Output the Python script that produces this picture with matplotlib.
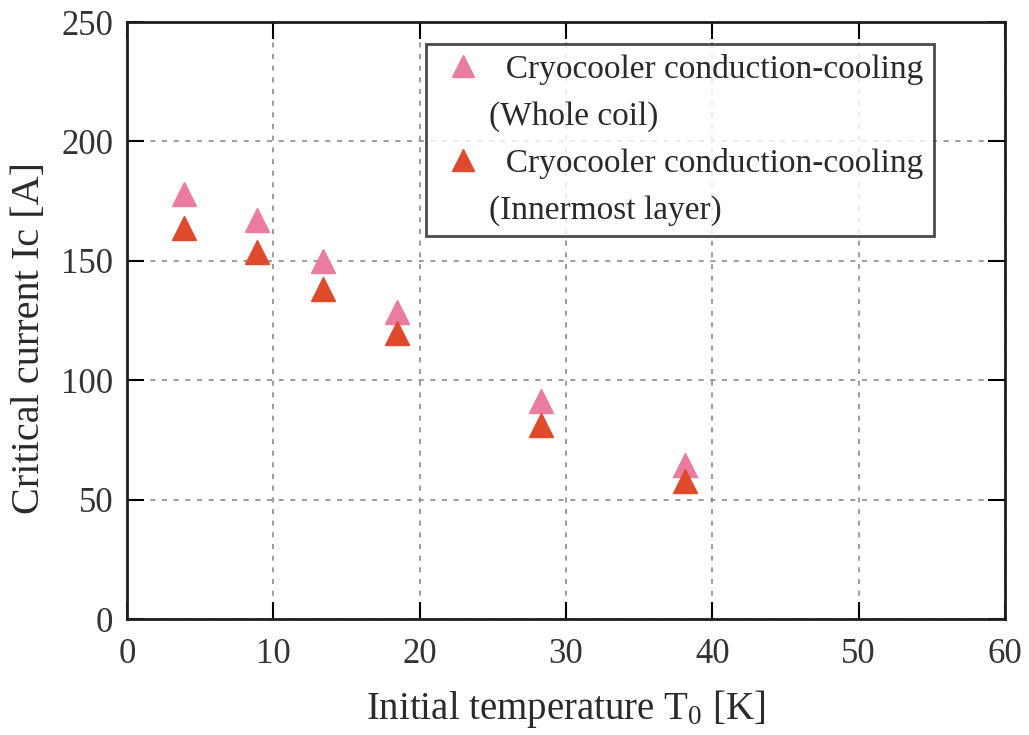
import matplotlib.pyplot as plt
from matplotlib.lines import Line2D

plt.rcParams['font.family'] = ['Liberation Serif', 'DejaVu Serif']
plt.rcParams['mathtext.fontset'] = 'custom'
plt.rcParams['mathtext.rm'] = 'Liberation Serif'

# initial temperature [K] and critical current [A]
t0 = [3.9, 8.9, 13.4, 18.45, 28.3, 38.1]
ic_whole = [178.0, 167.3, 150.1, 128.6, 91.3, 64.5]
ic_inner = [163.7, 153.9, 138.0, 119.6, 81.4, 58.0]

x_ticks = [0, 10, 20, 30, 40, 50, 60]
y_ticks = [0, 50, 100, 150, 200, 250]

pink = '#ea7ba1'
red = '#e04a2c'

fig = plt.figure(figsize=(10.29, 7.35), dpi=100)
ax = fig.add_axes([0.1234, 0.1578, 0.8533, 0.8122])

ax.plot(t0, ic_whole, linestyle='none', marker='^', markersize=17, color=pink)
ax.plot(t0, ic_inner, linestyle='none', marker='^', markersize=17, color=red)

ax.set_xlim(0, 60)
ax.set_ylim(0, 250)
ax.set_xticks(x_ticks)
ax.set_yticks(y_ticks)
ax.grid(True, linestyle=(0, (3, 4)), color='#8a8a8a', linewidth=1.2)
ax.tick_params(direction='in', length=12, width=1.5, top=True, right=True,
               labelsize=25, labelcolor='#333333')
ax.tick_params(axis='x', pad=14)
ax.tick_params(axis='y', pad=10)
for s in ax.spines.values():
    s.set_linewidth(2)
    s.set_color('#1e1e1e')

ax.set_xlabel('Initial temperature T$\\mathregular{_0}$ [K]', fontsize=28,
              color='#2a2a2a', labelpad=12)
ax.set_ylabel('Critical current Ic [A]', fontsize=29, color='#2a2a2a')
ax.yaxis.set_label_coords(-0.09, 0.47)

# legend: marker on first line, second line of each label without marker
blank = Line2D([], [], linestyle='none')
handles = [Line2D([], [], linestyle='none', marker='^', markersize=16, color=pink),
           blank,
           Line2D([], [], linestyle='none', marker='^', markersize=16, color=red),
           blank]
labels = ['  Cryocooler conduction-cooling', '(Whole coil)',
          '  Cryocooler conduction-cooling', '(Innermost layer)']
leg = ax.legend(handles, labels, loc='upper left',
                bbox_to_anchor=(426 / 1029, 1 - 44 / 735),
                bbox_transform=fig.transFigure, fontsize=24,
                frameon=True, fancybox=False, handlelength=1.6,
                handletextpad=0.0, borderpad=0.3, labelspacing=0.48,
                borderaxespad=0)
leg.get_frame().set_edgecolor('#1e1e1e')
leg.get_frame().set_linewidth(2)
for t in leg.get_texts():
    t.set_color('#2a2a2a')

fig.savefig('out.png', dpi=100)
